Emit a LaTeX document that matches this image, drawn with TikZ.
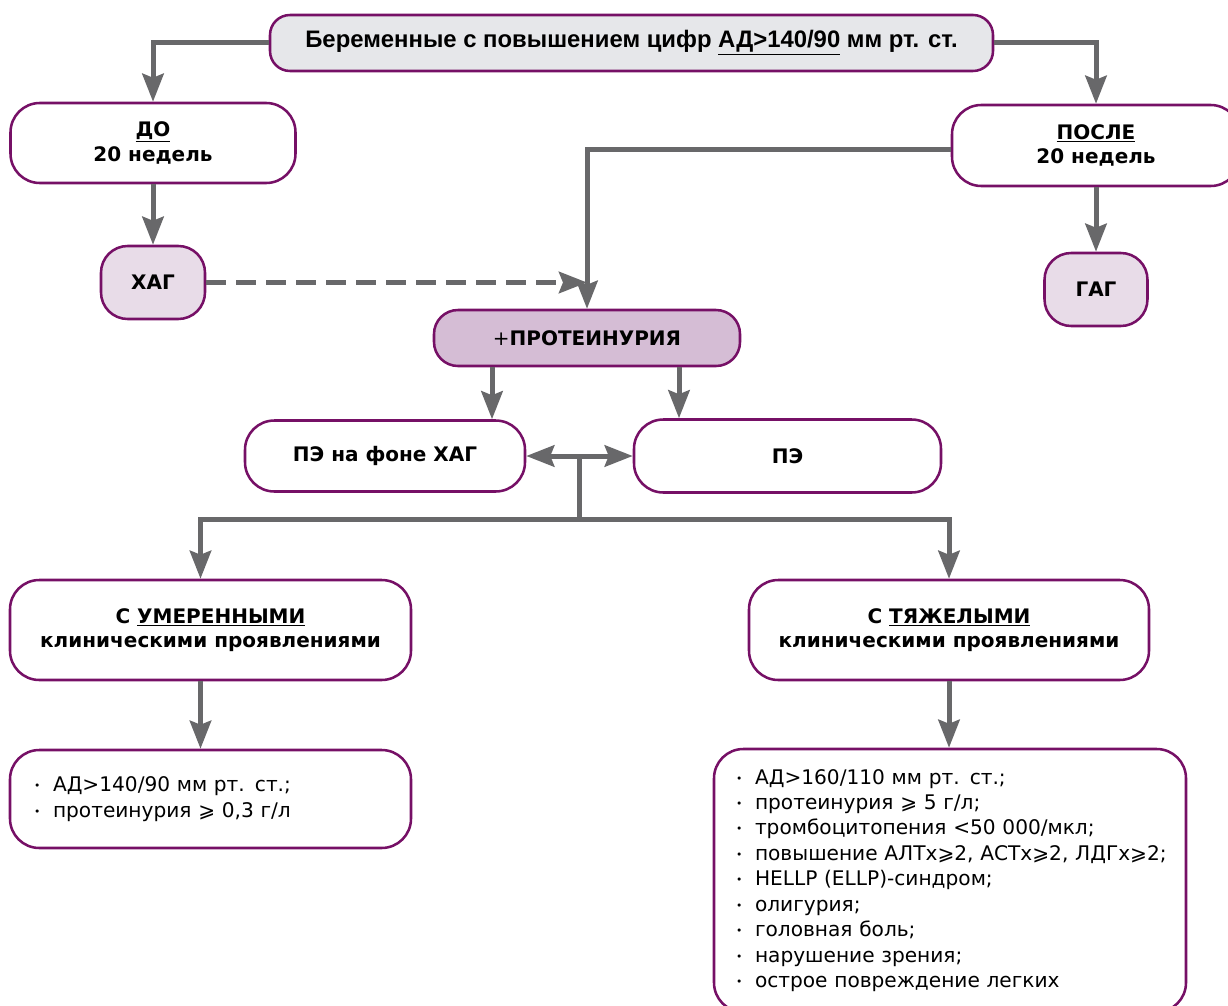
\documentclass[tikz,border=0pt]{standalone}
\usepackage{fontspec}
\setmainfont{DejaVu Sans}
\newfontfamily\headfont{Liberation Sans}
\usetikzlibrary{arrows.meta,positioning}

\definecolor{frame}{RGB}{118,16,102}
\definecolor{arrgray}{RGB}{104,104,106}
\definecolor{topfill}{RGB}{230,231,234}
\definecolor{paleplum}{RGB}{232,220,232}
\definecolor{plum}{RGB}{213,189,213}

\newdimen\px \px=0.75pt
\newcommand{\li}{\makebox[19\px][l]{\raisebox{1.5pt}{\fontsize{8}{8}\selectfont •}}}

\tikzset{
  box/.style={draw=frame, line width=1.9pt, rounded corners=22pt, align=center,
    inner sep=0pt, font=\bfseries\fontsize{15}{18.5}\selectfont},
  listbox/.style={draw=frame, line width=1.9pt, rounded corners=22pt, align=left,
    inner ysep=0pt, font=\fontsize{15.1}{19.1}\selectfont},
  flow/.style={draw=arrgray, line width=3.75pt,
    -{Stealth[length=21pt,width=16pt,inset=3pt]}},
  link/.style={draw=arrgray, line width=3.75pt},
}

\begin{document}
\begin{tikzpicture}[x=0.75pt,y=-0.75pt]
  \useasboundingbox (0,0) rectangle (1228,1006);
  % boxes
  \node[box, fill=topfill, rounded corners=15pt, minimum width=723\px, minimum height=56\px,
    font=\headfont\bfseries\fontsize{17.9}{19}\selectfont] (top) at (631.5,43)
    {Беременные с повышением цифр \underline{АД>140/90} мм рт. ст.};
  \node[box, fill=white, minimum width=285\px, minimum height=80\px] (do) at (153,143)
    {\underline{ДО}\\20 недель};
  \node[box, fill=white, minimum width=288\px, minimum height=81\px] (posle) at (1096,145.5)
    {\underline{ПОСЛЕ}\\20 недель};
  \node[box, fill=paleplum, rounded corners=20pt, minimum width=104\px, minimum height=73\px] (hag) at (153,282.5) {ХАГ};
  \node[box, fill=paleplum, rounded corners=20pt, minimum width=103\px, minimum height=73\px] (gag) at (1096,289.5) {ГАГ};
  \node[box, fill=plum, rounded corners=18pt, minimum width=306\px, minimum height=56\px] (prot) at (587,338)
    {{\mdseries +}ПРОТЕИНУРИЯ};
  \node[box, fill=white, minimum width=280\px, minimum height=71\px] (pehag) at (385,456) {ПЭ на фоне ХАГ};
  \node[box, fill=white, minimum width=307\px, minimum height=73\px] (pe) at (787.5,456) {ПЭ};
  \node[box, fill=white, minimum width=401\px, minimum height=100\px] (umer) at (210.5,630)
    {С \underline{УМЕРЕННЫМИ}\\клиническими проявлениями};
  \node[box, fill=white, minimum width=400\px, minimum height=100\px] (tyazh) at (949,630)
    {С \underline{ТЯЖЕЛЫМИ}\\клиническими проявлениями};
  \node[listbox, inner xsep=24\px, text width=353\px, minimum height=98\px] (listL) at (210.5,799)
    {\li АД>140/90 мм рт. ст.;\\
     \li протеинурия ⩾ 0,3 г/л};
  \node[listbox, inner xsep=22\px, text width=428\px, minimum height=263\px] (listR) at (950,880.5)
    {\li АД>160/110 мм рт. ст.;\\
     \li протеинурия ⩾ 5 г/л;\\
     \li тромбоцитопения <50 000/мкл;\\
     \li \mbox{повышение АЛТх⩾2, АСТх⩾2, ЛДГх⩾2;}\\
     \li HELLP (ELLP)-синдром;\\
     \li олигурия;\\
     \li головная боль;\\
     \li нарушение зрения;\\
     \li острое повреждение легких};
  % connectors
  \draw[flow] (top.west) -| (do.north);
  \draw[flow] (top.east) -| (posle.north);
  \draw[flow] (do) -- (hag);
  \draw[flow] (posle) -- (gag);
  \draw[flow] ([yshift=-4\px]posle.west) -| (prot.north);
  \draw[flow, dash pattern=on 15pt off 7.5pt] (hag.east) -- (hag.east -| prot.north);
  \draw[flow] ([xshift=-95\px]prot.south) coordinate (p1) -- (p1 |- pehag.north);
  \draw[flow] ([xshift=92\px]prot.south) coordinate (p2) -- (p2 |- pe.north);
  \draw[flow, {Stealth[length=21pt,width=16pt,inset=3pt]}-{Stealth[length=21pt,width=16pt,inset=3pt]}] (pehag.east) -- (pe.west);
  \path (pehag.east) -- (pe.west) coordinate[midway] (mid);
  \coordinate (fork) at (579.5,519);
  \draw[link] (mid) -- (fork);
  \draw[flow] (fork) -| ([xshift=-10\px]umer.north);
  \draw[flow] (fork) -| (tyazh.north);
  \draw[flow] ([xshift=-10\px]umer.south) -- ([xshift=-10\px]listL.north);
  \draw[flow] (tyazh.south) -- (tyazh.south |- listR.north);
\end{tikzpicture}
\end{document}
